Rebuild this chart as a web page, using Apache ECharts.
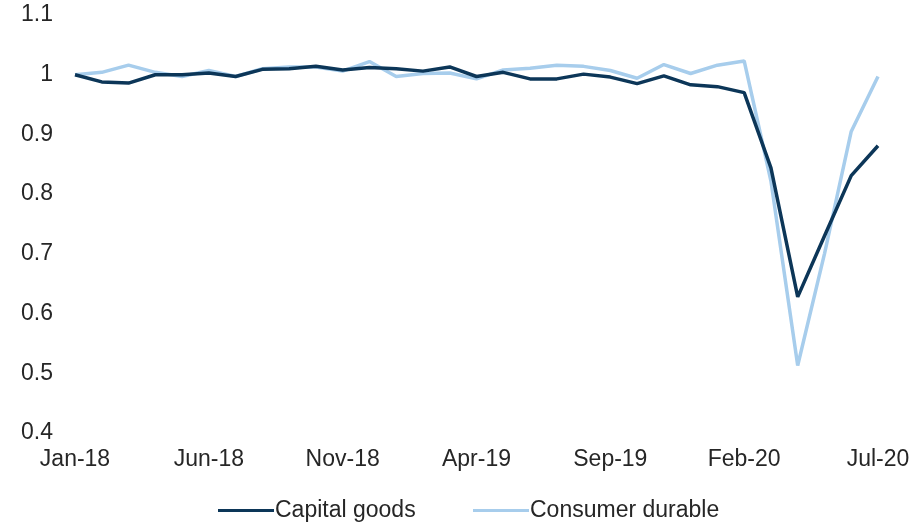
<!DOCTYPE html>
<html>
<head>
<meta charset="utf-8">
<script src="https://cdn.jsdelivr.net/npm/echarts@6/dist/echarts.min.js"></script>
<style>
  html, body { margin: 0; padding: 0; background: #ffffff; }
  #chart { width: 917px; height: 524px; }
</style>
</head>
<body>
<div id="chart"></div>
<script>
// Monthly index, Jan-18 = 1
const months = [
  'Jan-18','Feb-18','Mar-18','Apr-18','May-18','Jun-18','Jul-18','Aug-18','Sep-18','Oct-18','Nov-18','Dec-18',
  'Jan-19','Feb-19','Mar-19','Apr-19','May-19','Jun-19','Jul-19','Aug-19','Sep-19','Oct-19','Nov-19','Dec-19',
  'Jan-20','Feb-20','Mar-20','Apr-20','May-20','Jun-20','Jul-20'
];
const capitalGoods = [
  1.000, 0.988, 0.986, 1.000, 1.000, 1.003, 0.997, 1.009, 1.010, 1.014, 1.008, 1.012,
  1.010, 1.006, 1.013, 0.997, 1.004, 0.993, 0.993, 1.001, 0.996, 0.985,
  0.998, 0.983, 0.980, 0.970, 0.844, 0.628, 0.730, 0.831, 0.881
];
const consumerDurable = [
  1.000, 1.004, 1.016, 1.004, 0.997, 1.007, 0.997, 1.010, 1.013, 1.013, 1.006, 1.022,
  0.997, 1.002, 1.003, 0.993, 1.008, 1.011, 1.016, 1.014, 1.007, 0.994,
  1.017, 1.002, 1.016, 1.023, 0.822, 0.513, 0.700, 0.905, 0.997
];
const yTicks = { min: 0.4, max: 1.1, step: 0.1 };

const textColor = '#262626';
const fontFamily = '"Liberation Sans", Arial, sans-serif';
const darkBlue = '#0c3658';
const lightBlue = '#a7cdec';

const legendBase = {
  top: 494,
  icon: 'rect',
  itemWidth: 56,
  itemHeight: 3,
  textStyle: { color: textColor, fontSize: 23, fontFamily: fontFamily, padding: [0, 0, 0, -4] }
};

const chart = echarts.init(document.getElementById('chart'), null, { renderer: 'canvas' });
chart.setOption({
  animation: false,
  backgroundColor: '#ffffff',
  grid: { left: 75, right: 39, top: 15, bottom: 91, containLabel: false },
  legend: [
    Object.assign({ left: 213, data: ['Capital goods'] }, legendBase),
    Object.assign({ left: 468, data: ['Consumer durable'] }, legendBase)
  ],
  xAxis: {
    type: 'category',
    data: months,
    boundaryGap: false,
    axisLine: { show: false },
    axisTick: { show: false },
    splitLine: { show: false },
    axisLabel: {
      interval: 4,
      margin: 15,
      color: textColor,
      fontSize: 23,
      fontFamily: fontFamily
    }
  },
  yAxis: {
    type: 'value',
    min: yTicks.min,
    max: yTicks.max,
    interval: yTicks.step,
    axisLine: { show: false },
    axisTick: { show: false },
    splitLine: { show: false },
    axisLabel: {
      margin: 22,
      color: textColor,
      fontSize: 23,
      fontFamily: fontFamily,
      formatter: v => String(parseFloat(v.toFixed(1)))
    }
  },
  series: [
    {
      name: 'Consumer durable',
      type: 'line',
      data: consumerDurable,
      showSymbol: false,
      symbol: 'none',
      z: 2,
      lineStyle: { color: lightBlue, width: 3.5 },
      itemStyle: { color: lightBlue }
    },
    {
      name: 'Capital goods',
      type: 'line',
      data: capitalGoods,
      showSymbol: false,
      symbol: 'none',
      z: 3,
      lineStyle: { color: darkBlue, width: 3.5 },
      itemStyle: { color: darkBlue }
    }
  ]
});
</script>
</body>
</html>
